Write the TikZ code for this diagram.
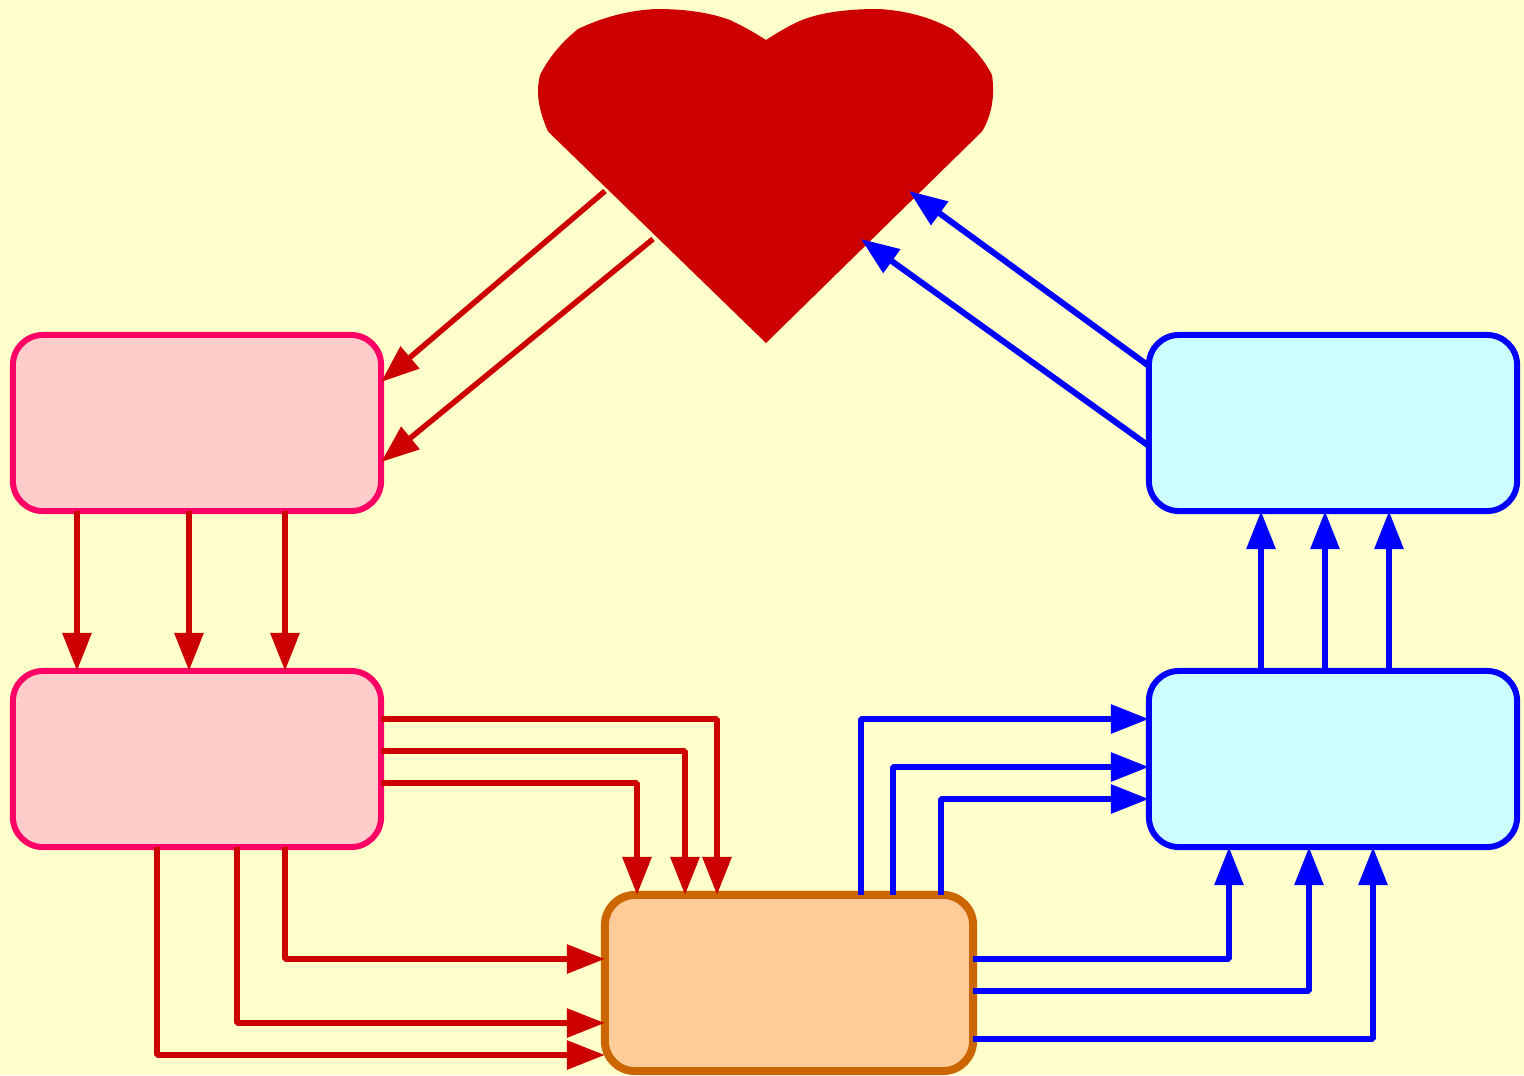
\documentclass[tikz,border=0pt]{standalone}
\usetikzlibrary{arrows.meta}
\definecolor{paper}{HTML}{FFFFCC}
\definecolor{heartred}{HTML}{CC0000}
\definecolor{pinkline}{HTML}{FF0066}
\definecolor{pinkfill}{HTML}{FFCCCC}
\definecolor{cyanfill}{HTML}{CCFFFF}
\definecolor{hubline}{HTML}{CC6600}
\definecolor{hubfill}{HTML}{FFCC99}
\tikzset{
  boxbase/.style={rectangle,rounded corners=0.3cm,inner sep=0pt,outer sep=0pt,minimum width=3.68cm,minimum height=1.76cm},
  pinkbox/.style={boxbase,draw=pinkline,fill=pinkfill,line width=0.06cm},
  cyanbox/.style={boxbase,draw=blue,fill=cyanfill,line width=0.06cm},
  hubbox/.style={boxbase,draw=hubline,fill=hubfill,line width=0.08cm},
  link/.style={line width=0.06cm,line join=bevel,-{Triangle[length=0.38cm,width=0.28cm]}},
  redlink/.style={link,draw=heartred,{-{Triangle[length=0.38cm,width=0.28cm,fill=heartred]}}},
  bluelink/.style={link,draw=blue,{-{Triangle[length=0.38cm,width=0.28cm,fill=blue]}}},
}
\begin{document}
\begin{tikzpicture}[x=0.01cm,y=-0.01cm]
\path[use as bounding box,fill=paper] (0,0) rectangle (1524,1075);

\fill[heartred] (766,343) -- (548,131.5)
  .. controls (540,113) and (535,95) .. (540,75)
  .. controls (549,57) and (562,42) .. (578,29)
  .. controls (603,17) and (630,10) .. (657,9)
  .. controls (683,9) and (708,12) .. (730,20)
  .. controls (743,26) and (755,33) .. (766,40)
  .. controls (777,33) and (788,26) .. (802,20)
  .. controls (822,12) and (850,9) .. (877,9)
  .. controls (904,10) and (930,17) .. (952,29)
  .. controls (968,42) and (983,57) .. (992,75)
  .. controls (995,95) and (992,115) .. (982,131.5)
  -- cycle;

\coordinate (H1) at (605,191);
\coordinate (H2) at (653,239);
\coordinate (H3) at (909,191);
\coordinate (H4) at (861,239);

\node[pinkbox] (P1) at (197,423) {};
\node[pinkbox] (P2) at (197,759) {};
\node[cyanbox] (C1) at (1333,423) {};
\node[cyanbox] (C2) at (1333,759) {};
\node[hubbox] (H) at (789,983) {};

\draw[redlink,line width=0.055cm] (H1) -- (P1.east |- 0,382);
\draw[redlink,line width=0.055cm] (H2) -- (P1.east |- 0,462);
\draw[bluelink] (C1.west |- 0,366) -- (H3);
\draw[bluelink] (C1.west |- 0,446) -- (H4);

\foreach \x in {77,189,285}
{
\draw[redlink] (\x,0 |- P1.south) -- (\x,0 |- P2.north);
}
\foreach \x/\y in {717/719,685/751,637/783}
{
\draw[redlink] (P2.east |- 0,\y) -| (\x,0 |- H.north);
}
\foreach \x/\y in {157/1055,237/1023,285/959}
{
\draw[redlink] (\x,0 |- P2.south) |- (H.west |- 0,\y);
}

\foreach \x/\y in {861/719,893/767,941/799}
{
\draw[bluelink] (\x,0 |- H.north) |- (C2.west |- 0,\y);
}
\foreach \x/\y in {1229/959,1309/991,1373/1039}
{
\draw[bluelink] (H.east |- 0,\y) -| (\x,0 |- C2.south);
}
\foreach \x in {1261,1325,1389}
{
\draw[bluelink] (\x,0 |- C2.north) -- (\x,0 |- C1.south);
}
\end{tikzpicture}
\end{document}
